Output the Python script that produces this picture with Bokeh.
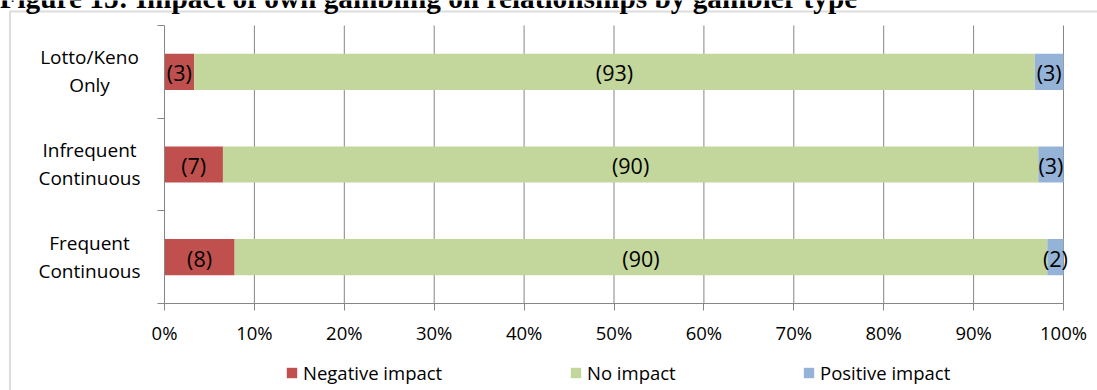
from bokeh.plotting import figure
from bokeh.models import (ColumnDataSource, FixedTicker, Label, LabelSet, Legend,
                          LegendItem, BoxAnnotation, Range1d)
from bokeh.core.properties import value
from bokeh.embed import file_html
from bokeh.resources import INLINE

# ---------------- data ----------------
title_text = "Figure 15: Impact of own gambling on relationships by gambler type"
cat_line1 = ["Frequent", "Infrequent", "Lotto/Keno"]
cat_line2 = ["Continuous", "Continuous", "Only"]
negative = [7.8, 6.5, 3.3]
no_impact = [90.4, 90.7, 93.5]
positive = [1.8, 2.8, 3.2]
negative_labels = ["(8)", "(7)", "(3)"]
no_impact_labels = ["(90)", "(90)", "(93)"]
positive_labels = ["(2)", "(3)", "(3)"]
series_names = ["Negative impact", "No impact", "Positive impact"]
x_ticks = [0, 10, 20, 30, 40, 50, 60, 70, 80, 90, 100]
x_tick_labels = ["0%", "10%", "20%", "30%", "40%", "50%", "60%", "70%", "80%", "90%", "100%"]

# ---------------- styles / geometry ----------------
colors = ["#C0504D", "#C3D69B", "#95B3D7"]
GRID = "#868686"
FONT = "Open Sans"
W, H = 1097, 390
FL, FR, FT, FB = 164, 1063, 25, 303   # pixel edges of the plotting area
NCAT = len(cat_line1)
KX = (FR - FL) / 100.0
KY = (FB - FT) / NCAT


def dx(px):
    return (px - FL) / KX


def dy(py):
    return (FB - py) / KY


ypos = [i + 0.5 for i in range(NCAT)]

src = ColumnDataSource(dict(y=ypos, neg=negative, none=no_impact, pos=positive))

p = figure(width=W, height=H,
           x_range=Range1d(dx(0), dx(W)), y_range=Range1d(dy(H), dy(0)),
           output_backend="svg", toolbar_location=None,
           min_border=0, min_border_left=0, min_border_right=0,
           min_border_top=0, min_border_bottom=0)
p.outline_line_color = None
p.background_fill_color = "white"
p.border_fill_color = "white"

# vertical gridlines (limited to the plotting area)
p.segment(x0=x_ticks[1:], x1=x_ticks[1:], y0=[0] * (len(x_ticks) - 1),
          y1=[NCAT] * (len(x_ticks) - 1), line_color=GRID, line_width=1)
p.xgrid.grid_line_color = None
p.ygrid.grid_line_color = None

rends = p.hbar_stack(["neg", "none", "pos"], y="y", height=0.39, color=colors,
                     line_color=None, source=src)

# axes at fixed locations
xa = p.xaxis[0]
xa.fixed_location = 0
xa.bounds = (0, 100)
xa.ticker = FixedTicker(ticks=x_ticks, minor_ticks=[])
xa.major_label_overrides = {t: l for t, l in zip(x_ticks, x_tick_labels)}
xa.axis_line_color = GRID
xa.major_tick_line_color = GRID
xa.major_tick_out = 7
xa.major_tick_in = 0
xa.minor_tick_line_color = None
xa.major_label_text_font = FONT
xa.major_label_text_font_size = "18.5px"
xa.major_label_text_color = "#000000"
xa.major_label_standoff = 9

ya = p.yaxis[0]
ya.fixed_location = 0
ya.bounds = (0, NCAT)
ya.ticker = FixedTicker(ticks=[], minor_ticks=list(range(NCAT + 1)))
ya.axis_line_color = GRID
ya.minor_tick_line_color = GRID
ya.minor_tick_out = 7
ya.minor_tick_in = 0
ya.major_tick_line_color = None
ya.major_label_text_font_size = "0px"

# data labels
neg_c = [n / 2 for n in negative]
none_c = [n + m / 2 for n, m in zip(negative, no_impact)]
pos_c = [n + m + q / 2 for n, m, q in zip(negative, no_impact, positive)]
lab_src = ColumnDataSource(dict(
    x=neg_c + none_c + pos_c,
    y=ypos * 3,
    text=negative_labels + no_impact_labels + positive_labels))
p.add_layout(LabelSet(x="x", y="y", text="text", source=lab_src,
                      text_align="center", text_baseline="alphabetic",
                      y_offset=-9.5, text_font=value(FONT),
                      text_font_size=value("21.5px"), text_color="#000000"))

# category labels (two lines each)
c1 = ColumnDataSource(dict(x=[dx(89)] * NCAT, y=ypos, text=cat_line1))
c2 = ColumnDataSource(dict(x=[dx(89)] * NCAT, y=ypos, text=cat_line2))
for s, off in ((c1, 7.6), (c2, -20.6)):
    p.add_layout(LabelSet(x="x", y="y", text="text", source=s,
                          text_align="center", text_baseline="alphabetic",
                          y_offset=off, text_font=value(FONT),
                          text_font_size=value("19px"), text_color="#000000"))

# outer chart border
p.add_layout(BoxAnnotation(left=dx(9.5), right=dx(W + 50), top=dy(11), bottom=dy(H + 50),
                           fill_alpha=0, line_color="#8C8C8C", line_width=2))

# title (cut at top)
p.add_layout(Label(x=dx(-1), y=dy(-3), text=title_text, text_font="Liberation Serif",
                   text_font_style="bold", text_font_size="29.3px",
                   text_baseline="alphabetic", text_color="#000000"))

# legend: one legend per series at its own position
leg_x = [285, 569, 802]
for r, name, lx in zip(rends, series_names, leg_x):
    lg = Legend(items=[LegendItem(label=name, renderers=[r])],
                location=(lx, H - 384.5),
                orientation="horizontal", glyph_width=13, glyph_height=13,
                label_standoff=5, padding=0, margin=0, spacing=0,
                border_line_color=None, background_fill_alpha=0,
                label_text_font=FONT, label_text_font_size="18.5px",
                label_height=13, label_text_color="#000000")
    p.add_layout(lg)

open("out.html", "w").write(file_html(p, INLINE))
